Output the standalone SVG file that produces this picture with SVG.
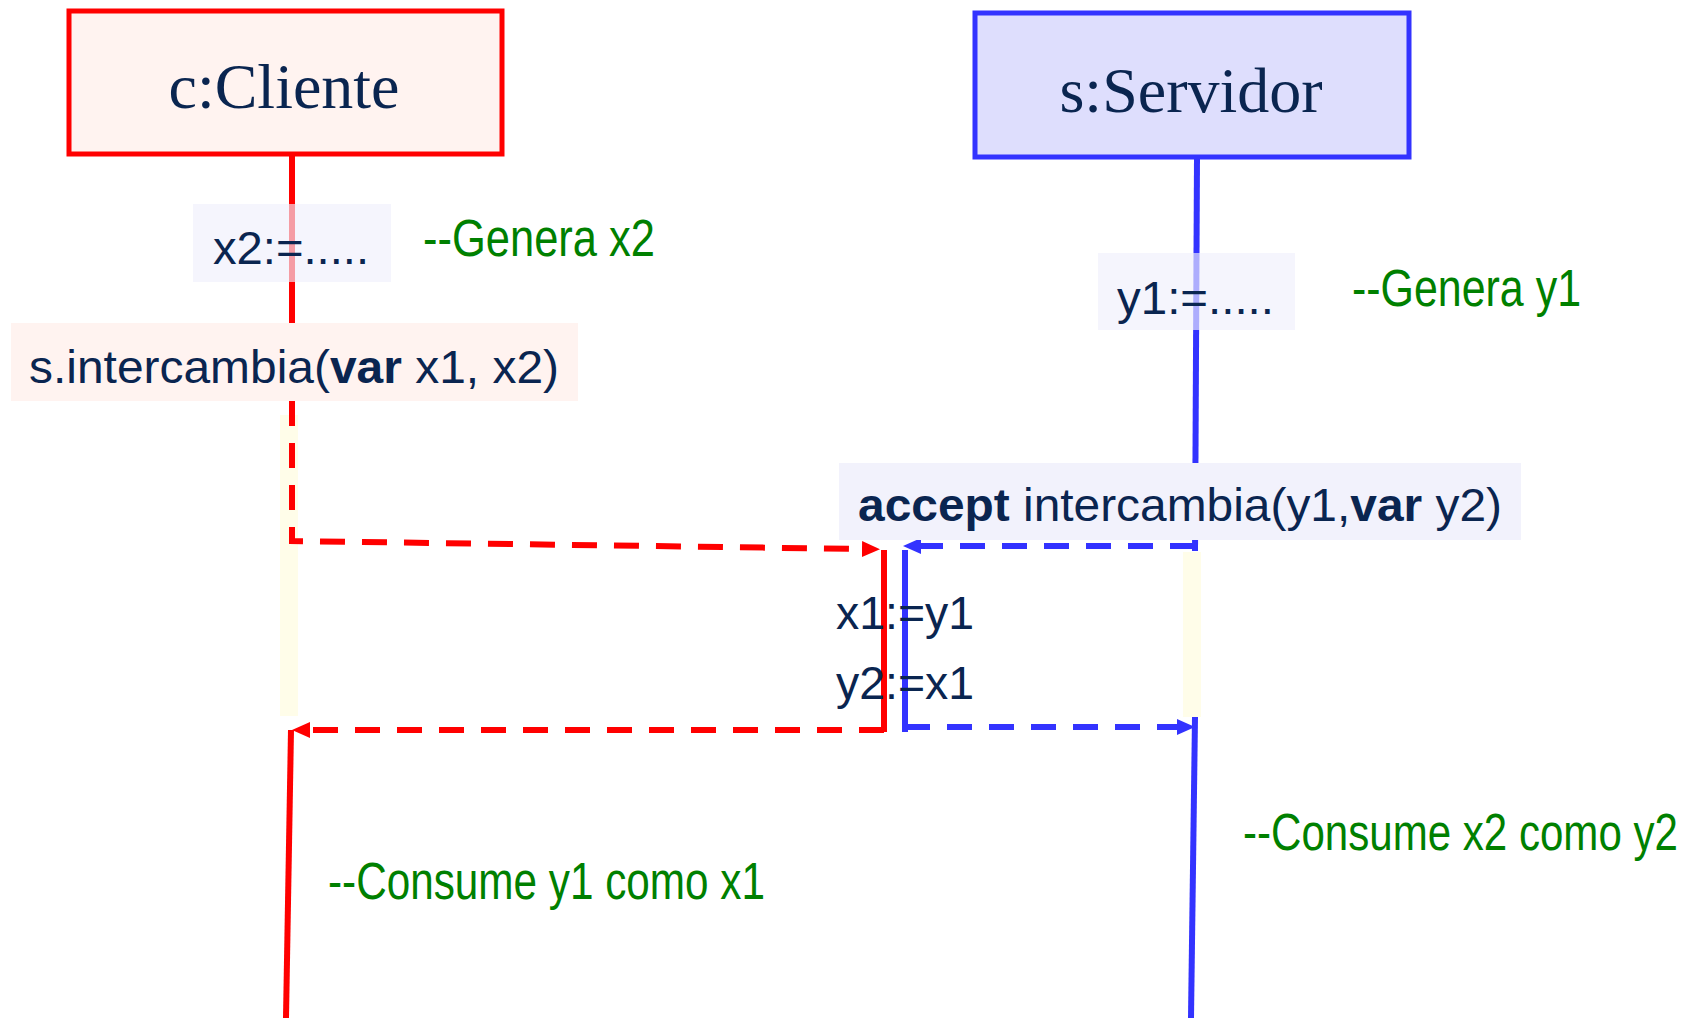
<svg xmlns="http://www.w3.org/2000/svg" width="1701" height="1018" viewBox="0 0 1701 1018">
<style>
.obj{font-family:"Liberation Serif","Times New Roman",serif;font-size:64px;fill:#0a2550;text-anchor:middle}
.t{font-family:"Liberation Sans",Arial,sans-serif;font-size:47px;fill:#0a2550}
.b{font-weight:bold}
.c{font-family:"Liberation Sans",Arial,sans-serif;font-size:51px;fill:#008000}
.red{stroke:#ff0000;stroke-width:6;fill:none}
.blue{stroke:#3333ff;stroke-width:6;fill:none}
.dash{stroke-dasharray:25 17}
.act{fill:#fffde9}
</style>
<defs>
<marker id="ar" markerUnits="userSpaceOnUse" markerWidth="18" markerHeight="16" viewBox="0 0 18 16" refX="0" refY="8" orient="auto"><path d="M0,0 L18,8 L0,16 z" fill="#ff0000"/></marker>
<marker id="ab" markerUnits="userSpaceOnUse" markerWidth="18" markerHeight="16" viewBox="0 0 18 16" refX="0" refY="8" orient="auto"><path d="M0,0 L18,8 L0,16 z" fill="#3333ff"/></marker>
</defs>
<rect width="1701" height="1018" fill="#ffffff"/>
<rect class="act" x="280" y="415" width="18" height="301"/>
<rect class="act" x="1183" y="552" width="18" height="165"/>
<g id="connectors">
<path class="red" d="M292 156 L292 330"/>
<path class="red dash" d="M292 401 L292 541 L862 549" marker-end="url(#ar)"/>
<path class="red" d="M884 550 L884 732"/>
<path class="red dash" d="M884 730 L310 730" marker-end="url(#ar)"/>
<path class="red" d="M291 730 L286 1018"/>
<path class="blue" d="M1197 157 L1195 551"/>
<path class="blue dash" d="M1195 546 L921 546" marker-end="url(#ab)"/>
<path class="blue" d="M905 550 L905 732"/>
<path class="blue dash" d="M905 727 L1177 727" marker-end="url(#ab)"/>
<path class="blue" d="M1195 717 L1191 1018"/>
</g>
<g id="cliente">
<rect x="69" y="11" width="433" height="143" fill="#fff3f0" stroke="#ff0000" stroke-width="5"/>
<text class="obj" x="284" y="108">c:Cliente</text>
</g>
<g id="servidor">
<rect x="975" y="13" width="434" height="144" fill="#dedefd" stroke="#3333ff" stroke-width="5"/>
<text class="obj" x="1191" y="112">s:Servidor</text>
</g>
<g id="x2-assign">
<rect x="193" y="204" width="198" height="78" fill="#f0f0fc" fill-opacity="0.65"/>
<text class="t" x="213" y="264" textLength="156" lengthAdjust="spacingAndGlyphs">x2:=.....</text>
</g>
<g id="genera-x2">
<text class="c" x="423" y="256" textLength="232" lengthAdjust="spacingAndGlyphs">--Genera x2</text>
</g>
<g id="y1-assign">
<rect x="1098" y="253" width="197" height="77" fill="#f0f0fc" fill-opacity="0.65"/>
<text class="t" x="1117" y="314" textLength="157" lengthAdjust="spacingAndGlyphs">y1:=.....</text>
</g>
<g id="genera-y1">
<text class="c" x="1352" y="306" textLength="229" lengthAdjust="spacingAndGlyphs">--Genera y1</text>
</g>
<g id="call">
<rect x="11" y="323" width="567" height="78" fill="#fff3f0"/>
<text class="t" x="29" y="383" textLength="530" lengthAdjust="spacingAndGlyphs">s.intercambia(<tspan class="b">var</tspan> x1, x2)</text>
</g>
<g id="accept">
<rect x="839" y="463" width="682" height="77" fill="#f2f2fc"/>
<text class="t" x="858" y="521" textLength="644" lengthAdjust="spacingAndGlyphs"><tspan class="b">accept</tspan> intercambia(y1,<tspan class="b">var</tspan> y2)</text>
</g>
<g id="body">
<text class="t" x="836" y="629" textLength="138" lengthAdjust="spacingAndGlyphs">x1:=y1</text>
<text class="t" x="836" y="699" textLength="138" lengthAdjust="spacingAndGlyphs">y2:=x1</text>
</g>
<g id="consume-x1">
<text class="c" x="328" y="899" textLength="437" lengthAdjust="spacingAndGlyphs">--Consume y1 como x1</text>
</g>
<g id="consume-y2">
<text class="c" transform="translate(1243 850) scale(0.825 1)">--Consume x2 como y2</text>
</g>
</svg>
